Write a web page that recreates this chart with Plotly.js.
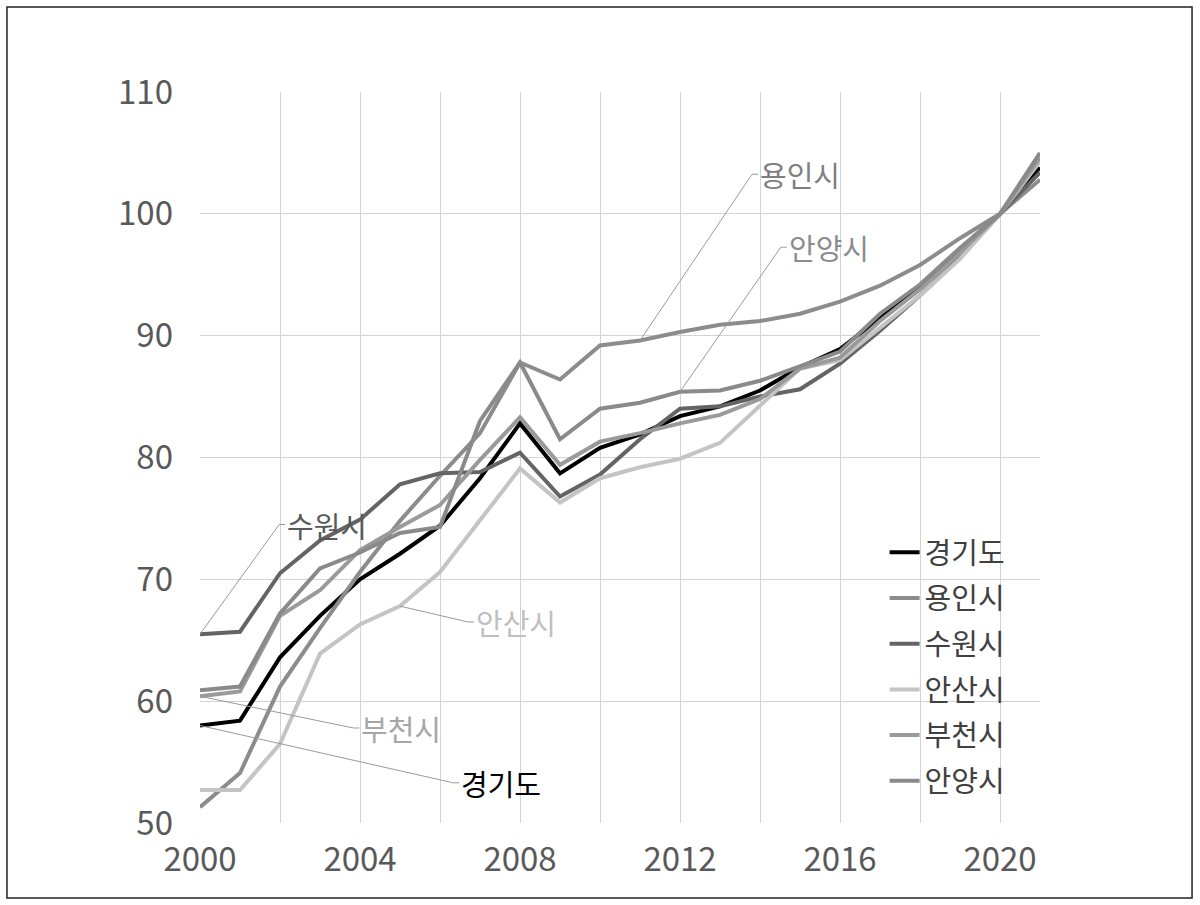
<!DOCTYPE html>
<html><head><meta charset="utf-8">
<script src="https://cdn.plot.ly/plotly-3.0.1.min.js"></script>
<style>html,body{margin:0;padding:0;background:#fff}#chart{width:1200px;height:905px}</style>
</head><body><div id="chart"></div>
<script>
const years = [2000,2001,2002,2003,2004,2005,2006,2007,2008,2009,2010,2011,2012,2013,2014,2015,2016,2017,2018,2019,2020,2021];
const gyeonggi = [58.0,58.4,63.6,67.0,70.0,72.1,74.4,78.3,82.8,78.7,80.8,81.9,83.4,84.2,85.5,87.4,88.9,91.5,94.0,96.9,100,103.8];
const yongin   = [51.3,54.1,61.2,66.0,70.6,74.8,78.5,82.0,87.8,86.4,89.2,89.6,90.3,90.9,91.2,91.8,92.8,94.1,95.8,98.0,100,102.8];
const suwon    = [65.5,65.7,70.5,73.2,74.9,77.8,78.7,78.8,80.4,76.8,78.6,81.5,84.0,84.2,85.0,85.6,87.7,90.4,93.3,96.4,100,103.4];
const ansan    = [52.7,52.7,56.5,63.9,66.3,67.8,70.6,74.8,79.1,76.3,78.3,79.2,79.9,81.2,84.3,87.3,88.0,90.6,93.3,96.3,100,104.3];
const bucheon  = [60.4,60.8,67.0,69.1,72.4,74.3,76.1,79.8,83.3,79.4,81.3,82.0,82.8,83.5,84.8,87.3,88.2,91.2,93.8,96.8,100,104.6];
const anyang   = [60.9,61.2,67.2,70.9,72.2,73.8,74.3,83.0,87.8,81.5,84.0,84.5,85.4,85.5,86.3,87.5,88.7,91.8,94.2,97.2,100,105.0];

const seriesNames = ['경기도','용인시','수원시','안산시','부천시','안양시'];
const seriesData = [gyeonggi, yongin, suwon, ansan, bucheon, anyang];
const seriesColors = ['#000000','#8c8c8c','#646464','#c4c4c4','#9a9a9a','#8a8a8a'];
const labelColors = ['#000000','#7f7f7f','#595959','#bfbfbf','#a6a6a6','#8c8c8c'];

// callout labels: series index, year index where the leader touches, elbow position (x,y)
const calloutSeries = [1, 5, 2, 3, 4, 0];
const calloutIdx    = [11, 12, 0, 5, 0, 0];
const calloutElbowX = [2013.8, 2014.52, 2001.98, 2006.7, 2003.83, 2006.33];
const calloutElbowY = [103.25, 97.26, 74.5, 66.5, 57.8, 53.3];

const FONT = 'Noto Sans CJK KR, Noto Sans, sans-serif';

const traces = seriesNames.map((n, i) => ({
  x: years, y: seriesData[i], name: n, type: 'scatter', mode: 'lines',
  line: {color: seriesColors[i], width: 4}, legendgroup: 'g' + i
}));

const shapes = [];
const annotations = [];
calloutSeries.forEach((s, k) => {
  const px = years[calloutIdx[k]], py = seriesData[s][calloutIdx[k]];
  const ex = calloutElbowX[k], ey = calloutElbowY[k];
  shapes.push({type: 'path', xref: 'x', yref: 'y',
    path: `M${px},${py} L${ex},${ey} L${ex + 0.15},${ey}`,
    line: {color: '#9a9a9a', width: 1}});
  annotations.push({xref: 'x', yref: 'y', x: ex + 0.15, y: ey, text: seriesNames[s],
    showarrow: false, xanchor: 'left', yanchor: 'middle',
    font: {family: FONT, size: 29, color: labelColors[s]}});
});
// outer frame
shapes.push({type: 'rect', xref: 'paper', yref: 'paper',
  x0: -0.2298, x1: 1.1810, y0: -0.1026, y1: 1.1163,
  line: {color: '#222', width: 1.5}, layer: 'above'});

const layout = {
  width: 1200, height: 905,
  margin: {l: 200, r: 160, t: 92, b: 82},
  paper_bgcolor: '#fff', plot_bgcolor: '#fff',
  font: {family: FONT, color: '#595959'},
  showlegend: true,
  legend: {x: 0.815, y: 0.405, xanchor: 'left', yanchor: 'top',
    bgcolor: 'rgba(0,0,0,0)', font: {family: FONT, size: 29, color: '#404040'},
    itemwidth: 30, tracegroupgap: 5, traceorder: 'grouped'},
  xaxis: {range: [2000, 2021], tick0: 2000, dtick: 4, showgrid: true,
    gridcolor: '#d3d3d3', gridwidth: 1, zeroline: false, showline: false,
    ticks: '', ticklabelstandoff: 14,
    tickfont: {family: FONT, size: 33, color: '#595959'},
    minor: {dtick: 2, tick0: 2000, showgrid: true, gridcolor: '#d3d3d3', gridwidth: 1}},
  yaxis: {range: [50, 110], dtick: 10, showgrid: true, gridcolor: '#d3d3d3',
    gridwidth: 1, zeroline: false, showline: false, ticks: '',
    ticklabelstandoff: 26,
    tickfont: {family: FONT, size: 33, color: '#595959'}},
  shapes: shapes,
  annotations: annotations
};

Plotly.newPlot('chart', traces, layout, {displayModeBar: false, staticPlot: true});
</script>
</body></html>
